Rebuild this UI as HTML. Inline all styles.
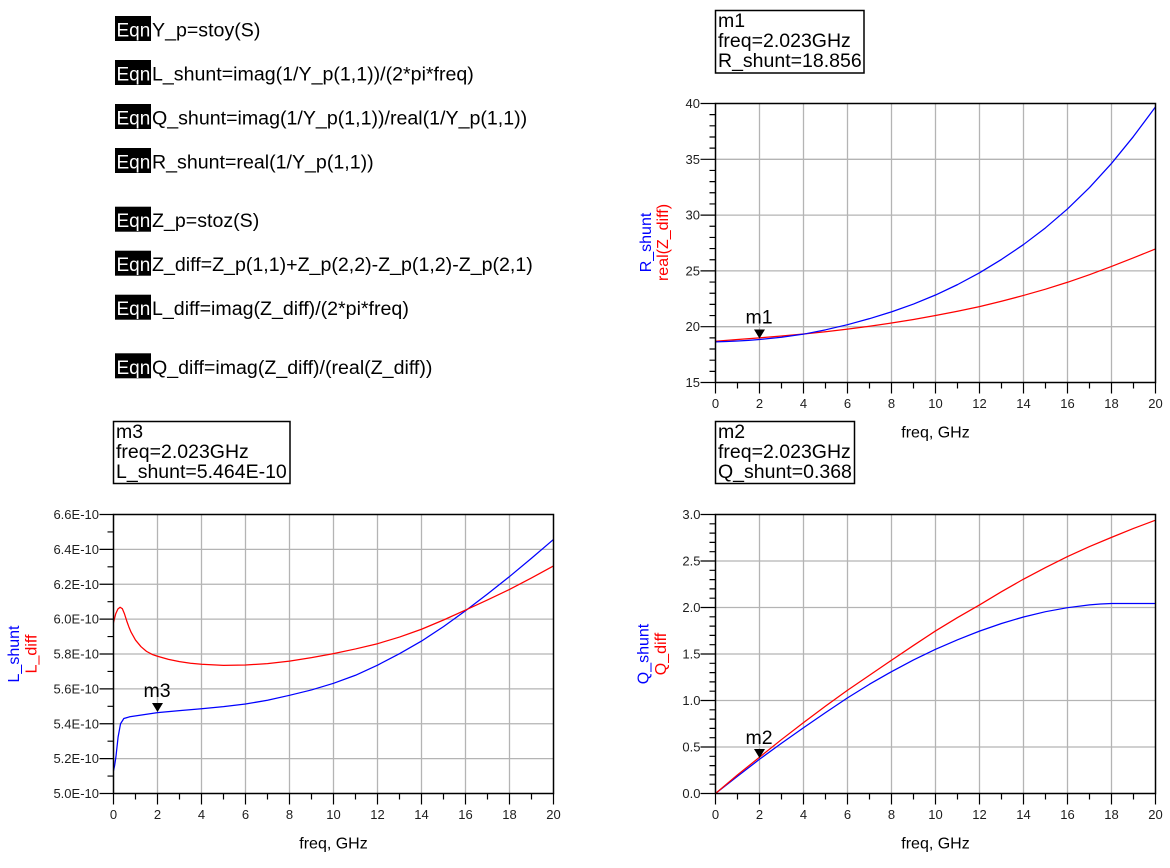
<!DOCTYPE html>
<html><head><meta charset="utf-8"><style>
html,body{margin:0;padding:0;background:#fff;}
svg{display:block;}
text{font-family:"Liberation Sans",Arial,sans-serif;}
.t{font-size:13px;fill:#1e1e1e;}
.e{font-size:19.6px;fill:#000;}
.k{font-size:19px;fill:#fff;}
.m{font-size:19.5px;fill:#000;}
.ax{font-size:16px;fill:#000;}
.g{stroke:#b4b4b4;stroke-width:1.3;fill:none;}
.tk{stroke:#000;stroke-width:1.2;fill:none;}
.fr{stroke:#000;stroke-width:1.5;fill:none;}
.cb{stroke:#0000ff;stroke-width:1.25;fill:none;vector-effect:non-scaling-stroke;stroke-linejoin:round;}
.cr{stroke:#ff0000;stroke-width:1.25;fill:none;vector-effect:non-scaling-stroke;stroke-linejoin:round;}
</style></head><body>
<svg width="1170" height="868" viewBox="0 0 1170 868" xmlns="http://www.w3.org/2000/svg">
<rect width="1170" height="868" fill="#fff"/>

<!-- Equations -->
<g>
<rect x="115" y="16" width="36" height="25" fill="#000"/><text class="k" x="116.5" y="36.5">Eqn</text><text class="e" x="152" y="36.5">Y_p=stoy(S)</text>
<rect x="115" y="60" width="36" height="25" fill="#000"/><text class="k" x="116.5" y="80.5">Eqn</text><text class="e" x="152" y="80.5">L_shunt=imag(1/Y_p(1,1))/(2*pi*freq)</text>
<rect x="115" y="104" width="36" height="25" fill="#000"/><text class="k" x="116.5" y="124.5">Eqn</text><text class="e" x="152" y="124.5">Q_shunt=imag(1/Y_p(1,1))/real(1/Y_p(1,1))</text>
<rect x="115" y="148" width="36" height="25" fill="#000"/><text class="k" x="116.5" y="168.5">Eqn</text><text class="e" x="152" y="168.5">R_shunt=real(1/Y_p(1,1))</text>
<rect x="115" y="206.7" width="36" height="25" fill="#000"/><text class="k" x="116.5" y="227.2">Eqn</text><text class="e" x="152" y="227.2">Z_p=stoz(S)</text>
<rect x="115" y="250.7" width="36" height="25" fill="#000"/><text class="k" x="116.5" y="271.2">Eqn</text><text class="e" x="152" y="271.2">Z_diff=Z_p(1,1)+Z_p(2,2)-Z_p(1,2)-Z_p(2,1)</text>
<rect x="115" y="294.7" width="36" height="25" fill="#000"/><text class="k" x="116.5" y="315.2">Eqn</text><text class="e" x="152" y="315.2">L_diff=imag(Z_diff)/(2*pi*freq)</text>
<rect x="115" y="353.3" width="36" height="25" fill="#000"/><text class="k" x="116.5" y="373.8">Eqn</text><text class="e" x="152" y="373.8">Q_diff=imag(Z_diff)/(real(Z_diff))</text>
</g>

<!-- ================= TOP RIGHT: R ================= -->
<g>
<rect class="fr" x="715.5" y="10.5" width="148.5" height="62.5" stroke-width="1.2"/>
<text class="m" x="718" y="27">m1</text>
<text class="m" x="718" y="47">freq=2.023GHz</text>
<text class="m" x="718" y="66.8">R_shunt=18.856</text>

<path class="g" d="M759.5,103.5V382.5M803.5,103.5V382.5M847.5,103.5V382.5M891.5,103.5V382.5M935.5,103.5V382.5M979.5,103.5V382.5M1023.5,103.5V382.5M1067.5,103.5V382.5M1111.5,103.5V382.5
M715.5,159.3H1155.5M715.5,215.1H1155.5M715.5,270.9H1155.5M715.5,326.7H1155.5"/>
<path class="tk" d="M700.5,103.5H715.5M700.5,159.3H715.5M700.5,215.1H715.5M700.5,270.9H715.5M700.5,326.7H715.5M700.5,382.5H715.5
M709.5,114.66H715.5M709.5,125.82H715.5M709.5,136.98H715.5M709.5,148.14H715.5
M709.5,170.46H715.5M709.5,181.62H715.5M709.5,192.78H715.5M709.5,203.94H715.5
M709.5,226.26H715.5M709.5,237.42H715.5M709.5,248.58H715.5M709.5,259.74H715.5
M709.5,282.06H715.5M709.5,293.22H715.5M709.5,304.38H715.5M709.5,315.54H715.5
M709.5,337.86H715.5M709.5,349.02H715.5M709.5,360.18H715.5M709.5,371.34H715.5
M715.5,382.5V393.5M759.5,382.5V393.5M803.5,382.5V393.5M847.5,382.5V393.5M891.5,382.5V393.5M935.5,382.5V393.5M979.5,382.5V393.5M1023.5,382.5V393.5M1067.5,382.5V393.5M1111.5,382.5V393.5M1155.5,382.5V393.5
M737.5,382.5V388.5M781.5,382.5V388.5M825.5,382.5V388.5M869.5,382.5V388.5M913.5,382.5V388.5M957.5,382.5V388.5M1001.5,382.5V388.5M1045.5,382.5V388.5M1089.5,382.5V388.5M1133.5,382.5V388.5"/>
<g transform="translate(715.5,549.9) scale(22,-11.16)">
<path class="cr" d="M0,18.7 L1,18.85 L2,19.0 L3,19.17 L4,19.35 L5,19.55 L6,19.78 L7,20.04 L8,20.33 L9,20.65 L10,21.0 L11,21.38 L12,21.8 L13,22.28 L14,22.8 L15,23.36 L16,23.98 L17,24.66 L18,25.4 L19,26.17 L20,26.97"/>
<path class="cb" d="M0,18.64 L0.5,18.67 L1,18.72 L1.5,18.78 L2,18.856 L3,19.05 L4,19.33 L5,19.72 L6,20.18 L7,20.72 L8,21.33 L9,22.03 L10,22.84 L11,23.77 L12,24.83 L13,26.03 L14,27.36 L15,28.86 L16,30.55 L17,32.47 L18,34.63 L19,37.05 L20,39.7"/>
</g>
<rect class="fr" x="715.5" y="103.5" width="440" height="279"/>
<g class="t" text-anchor="end">
<text x="700" y="108">40</text><text x="700" y="163.8">35</text><text x="700" y="219.6">30</text><text x="700" y="275.4">25</text><text x="700" y="331.2">20</text><text x="700" y="387">15</text>
</g>
<g class="t" text-anchor="middle">
<text x="715.5" y="408">0</text><text x="759.5" y="408">2</text><text x="803.5" y="408">4</text><text x="847.5" y="408">6</text><text x="891.5" y="408">8</text><text x="935.5" y="408">10</text><text x="979.5" y="408">12</text><text x="1023.5" y="408">14</text><text x="1067.5" y="408">16</text><text x="1111.5" y="408">18</text><text x="1155.5" y="408">20</text>
</g>
<text class="ax" x="935.5" y="437.5" text-anchor="middle">freq, GHz</text>
<text class="ax" transform="translate(651,242.5) rotate(-90)" text-anchor="middle" style="fill:#0000ff">R_shunt</text>
<text class="ax" transform="translate(668,242.5) rotate(-90)" text-anchor="middle" style="fill:#ff0000">real(Z_diff)</text>
<polygon points="754,329.5 765,329.5 759.5,338.5" fill="#000"/>
<text class="m" x="759" y="323.5" text-anchor="middle">m1</text>
</g>

<!-- ================= BOTTOM LEFT: L ================= -->
<g>
<rect class="fr" x="113.5" y="421.5" width="176.5" height="62" stroke-width="1.2"/>
<text class="m" x="116" y="438">m3</text>
<text class="m" x="116" y="458">freq=2.023GHz</text>
<text class="m" x="116" y="477.8">L_shunt=5.464E-10</text>

<path class="g" d="M157.5,514.5V793.5M201.5,514.5V793.5M245.5,514.5V793.5M289.5,514.5V793.5M333.5,514.5V793.5M377.5,514.5V793.5M421.5,514.5V793.5M465.5,514.5V793.5M509.5,514.5V793.5
M113.5,549.375H553.5M113.5,584.25H553.5M113.5,619.125H553.5M113.5,654H553.5M113.5,688.875H553.5M113.5,723.75H553.5M113.5,758.625H553.5"/>
<path class="tk" d="M99.5,514.5H113.5M99.5,549.375H113.5M99.5,584.25H113.5M99.5,619.125H113.5M99.5,654H113.5M99.5,688.875H113.5M99.5,723.75H113.5M99.5,758.625H113.5M99.5,793.5H113.5
M107.5,531.94H113.5M107.5,566.81H113.5M107.5,601.69H113.5M107.5,636.56H113.5M107.5,671.44H113.5M107.5,706.31H113.5M107.5,741.19H113.5M107.5,776.06H113.5
M113.5,793.5V804.5M157.5,793.5V804.5M201.5,793.5V804.5M245.5,793.5V804.5M289.5,793.5V804.5M333.5,793.5V804.5M377.5,793.5V804.5M421.5,793.5V804.5M465.5,793.5V804.5M509.5,793.5V804.5M553.5,793.5V804.5
M135.5,793.5V799.5M179.5,793.5V799.5M223.5,793.5V799.5M267.5,793.5V799.5M311.5,793.5V799.5M355.5,793.5V799.5M399.5,793.5V799.5M443.5,793.5V799.5M487.5,793.5V799.5M531.5,793.5V799.5"/>
<g transform="translate(113.5,1665.375) scale(22,-174.375)">
<path class="cb" d="M0,5.13 L0.05,5.16 L0.11,5.21 L0.21,5.325 L0.32,5.40 L0.47,5.43 L0.74,5.44 L1.2,5.449 L2,5.464 L3,5.475 L4,5.486 L5,5.498 L6,5.513 L7,5.535 L8,5.563 L9,5.594 L10,5.632 L11,5.678 L12,5.736 L13,5.802 L14,5.874 L15,5.957 L16,6.048 L17,6.144 L18,6.244 L19,6.349 L20,6.457"/>
<path class="cr" d="M0,5.98 L0.1,6.03 L0.2,6.058 L0.3,6.068 L0.4,6.06 L0.5,6.03 L0.6,5.99 L0.7,5.955 L0.8,5.925 L1,5.88 L1.25,5.842 L1.5,5.815 L1.75,5.798 L2,5.787 L2.5,5.769 L3,5.756 L3.5,5.747 L4,5.741 L5,5.735 L6,5.737 L7,5.745 L8,5.759 L9,5.779 L10,5.802 L11,5.829 L12,5.859 L13,5.897 L14,5.942 L15,5.995 L16,6.052 L17,6.11 L18,6.17 L19,6.236 L20,6.305"/>
</g>
<rect class="fr" x="113.5" y="514.5" width="440" height="279"/>
<g class="t" text-anchor="end">
<text x="99" y="519">6.6E-10</text><text x="99" y="553.9">6.4E-10</text><text x="99" y="588.8">6.2E-10</text><text x="99" y="623.6">6.0E-10</text><text x="99" y="658.5">5.8E-10</text><text x="99" y="693.4">5.6E-10</text><text x="99" y="728.3">5.4E-10</text><text x="99" y="763.1">5.2E-10</text><text x="99" y="798">5.0E-10</text>
</g>
<g class="t" text-anchor="middle">
<text x="113.5" y="819">0</text><text x="157.5" y="819">2</text><text x="201.5" y="819">4</text><text x="245.5" y="819">6</text><text x="289.5" y="819">8</text><text x="333.5" y="819">10</text><text x="377.5" y="819">12</text><text x="421.5" y="819">14</text><text x="465.5" y="819">16</text><text x="509.5" y="819">18</text><text x="553.5" y="819">20</text>
</g>
<text class="ax" x="333.5" y="848.5" text-anchor="middle">freq, GHz</text>
<text class="ax" transform="translate(19,654) rotate(-90)" text-anchor="middle" style="fill:#0000ff">L_shunt</text>
<text class="ax" transform="translate(36.5,654) rotate(-90)" text-anchor="middle" style="fill:#ff0000">L_diff</text>
<polygon points="152,703 163,703 157.5,712" fill="#000"/>
<text class="m" x="157" y="697" text-anchor="middle">m3</text>
</g>

<!-- ================= BOTTOM RIGHT: Q ================= -->
<g>
<rect class="fr" x="715.5" y="421.5" width="139" height="62" stroke-width="1.2"/>
<text class="m" x="718" y="438">m2</text>
<text class="m" x="718" y="458">freq=2.023GHz</text>
<text class="m" x="718" y="477.8">Q_shunt=0.368</text>

<path class="g" d="M759.5,514.5V793.5M803.5,514.5V793.5M847.5,514.5V793.5M891.5,514.5V793.5M935.5,514.5V793.5M979.5,514.5V793.5M1023.5,514.5V793.5M1067.5,514.5V793.5M1111.5,514.5V793.5
M715.5,561H1155.5M715.5,607.5H1155.5M715.5,654H1155.5M715.5,700.5H1155.5M715.5,747H1155.5"/>
<path class="tk" d="M700.5,514.5H715.5M700.5,561H715.5M700.5,607.5H715.5M700.5,654H715.5M700.5,700.5H715.5M700.5,747H715.5M700.5,793.5H715.5
M709.5,523.8H715.5M709.5,533.1H715.5M709.5,542.4H715.5M709.5,551.7H715.5
M709.5,570.3H715.5M709.5,579.6H715.5M709.5,588.9H715.5M709.5,598.2H715.5
M709.5,616.8H715.5M709.5,626.1H715.5M709.5,635.4H715.5M709.5,644.7H715.5
M709.5,663.3H715.5M709.5,672.6H715.5M709.5,681.9H715.5M709.5,691.2H715.5
M709.5,709.8H715.5M709.5,719.1H715.5M709.5,728.4H715.5M709.5,737.7H715.5
M709.5,756.3H715.5M709.5,765.6H715.5M709.5,774.9H715.5M709.5,784.2H715.5
M715.5,793.5V804.5M759.5,793.5V804.5M803.5,793.5V804.5M847.5,793.5V804.5M891.5,793.5V804.5M935.5,793.5V804.5M979.5,793.5V804.5M1023.5,793.5V804.5M1067.5,793.5V804.5M1111.5,793.5V804.5M1155.5,793.5V804.5
M737.5,793.5V799.5M781.5,793.5V799.5M825.5,793.5V799.5M869.5,793.5V799.5M913.5,793.5V799.5M957.5,793.5V799.5M1001.5,793.5V799.5M1045.5,793.5V799.5M1089.5,793.5V799.5M1133.5,793.5V799.5"/>
<g transform="translate(715.5,793.5) scale(22,-93)">
<path class="cb" d="M0,0 L1,0.185 L2,0.368 L3,0.54 L4,0.707 L5,0.87 L6,1.028 L7,1.175 L8,1.31 L9,1.436 L10,1.55 L11,1.653 L12,1.746 L13,1.828 L14,1.898 L15,1.955 L16,1.998 L17,2.028 L17.5,2.038 L18,2.043 L20,2.043"/>
<path class="cr" d="M0,0 L1,0.2 L2,0.39 L3,0.58 L4,0.762 L5,0.94 L6,1.11 L7,1.272 L8,1.433 L9,1.592 L10,1.748 L11,1.892 L12,2.028 L13,2.17 L14,2.305 L15,2.43 L16,2.548 L17,2.655 L18,2.754 L19,2.85 L20,2.939"/>
</g>
<rect class="fr" x="715.5" y="514.5" width="440" height="279"/>
<g class="t" text-anchor="end">
<text x="700.5" y="519">3.0</text><text x="700.5" y="565.5">2.5</text><text x="700.5" y="612">2.0</text><text x="700.5" y="658.5">1.5</text><text x="700.5" y="705">1.0</text><text x="700.5" y="751.5">0.5</text><text x="700.5" y="798">0.0</text>
</g>
<g class="t" text-anchor="middle">
<text x="715.5" y="819">0</text><text x="759.5" y="819">2</text><text x="803.5" y="819">4</text><text x="847.5" y="819">6</text><text x="891.5" y="819">8</text><text x="935.5" y="819">10</text><text x="979.5" y="819">12</text><text x="1023.5" y="819">14</text><text x="1067.5" y="819">16</text><text x="1111.5" y="819">18</text><text x="1155.5" y="819">20</text>
</g>
<text class="ax" x="935.5" y="848.5" text-anchor="middle">freq, GHz</text>
<text class="ax" transform="translate(648.5,654) rotate(-90)" text-anchor="middle" style="fill:#0000ff">Q_shunt</text>
<text class="ax" transform="translate(666,654) rotate(-90)" text-anchor="middle" style="fill:#ff0000">Q_diff</text>
<polygon points="754,749 765,749 759.5,758" fill="#000"/>
<text class="m" x="759" y="744" text-anchor="middle">m2</text>
</g>
</svg>
</body></html>
